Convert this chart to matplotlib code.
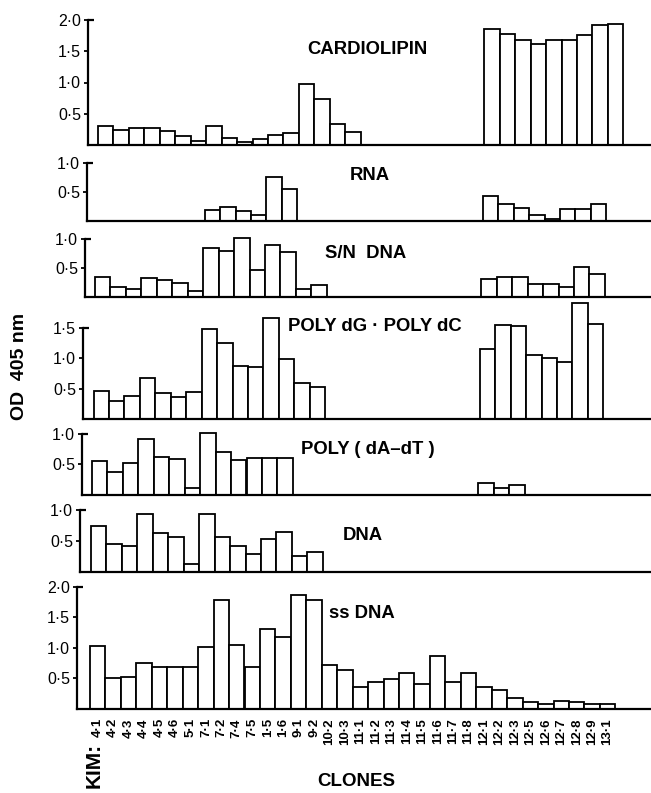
import numpy as np
import matplotlib
matplotlib.use("Agg")
import matplotlib.pyplot as plt

plt.rcParams['font.family'] = ['Liberation Sans', 'DejaVu Sans']

nan = np.nan

clones = ['4·1', '4·2', '4·3', '4·4', '4·5', '4·6', '5·1', '7·1', '7·2', '7·4', '7·5',
          '1·5', '1·6', '9·1', '9·2', '10·2', '10·3', '11·1', '11·2', '11·3', '11·4',
          '11·5', '11·6', '11·7', '11·8', '12·1', '12·2', '12·3', '12·5', '12·6',
          '12·7', '12·8', '12·9', '13·1']

cardiolipin = [0.31, 0.24, 0.28, 0.27, 0.22, 0.15, 0.06, 0.30, 0.11, 0.05, 0.09, 0.16,
               0.20, 0.98, 0.74, 0.34, 0.21] + [nan] * 8 + \
              [1.85, 1.77, 1.68, 1.61, 1.68, 1.68, 1.76, 1.92, 1.94]
rna = [nan] * 7 + [0.19, 0.24, 0.16, 0.09, 0.76, 0.54] + [nan] * 12 + \
      [0.42, 0.28, 0.21, 0.09, 0.03, 0.20, 0.20, 0.28, nan]
sn_dna = [0.34, 0.18, 0.14, 0.32, 0.29, 0.24, 0.10, 0.84, 0.79, 1.01, 0.47, 0.90, 0.78,
          0.13, 0.21] + [nan] * 10 + [0.31, 0.34, 0.34, 0.22, 0.22, 0.18, 0.51, 0.40, nan]
poly_dg_dc = [0.46, 0.29, 0.38, 0.67, 0.43, 0.36, 0.44, 1.48, 1.26, 0.88, 0.85, 1.66,
              0.99, 0.60, 0.53] + [nan] * 10 + \
             [1.15, 1.55, 1.53, 1.05, 1.01, 0.94, 1.91, 1.56, nan]
poly_da_dt = [0.55, 0.38, 0.52, 0.91, 0.63, 0.59, 0.11, 1.01, 0.71, 0.58, 0.60, 0.61,
              0.61] + [nan] * 12 + [0.19, 0.12, 0.16] + [nan] * 6
dna = [0.75, 0.45, 0.42, 0.94, 0.63, 0.57, 0.13, 0.93, 0.56, 0.42, 0.29, 0.54, 0.64,
       0.26, 0.32] + [nan] * 19
ss_dna = [1.03, 0.50, 0.52, 0.75, 0.68, 0.68, 0.69, 1.01, 1.79, 1.05, 0.68, 1.31, 1.17,
          1.87, 1.79, 0.72, 0.63, 0.36, 0.43, 0.48, 0.59, 0.40, 0.87, 0.43, 0.58, 0.36,
          0.31, 0.17, 0.11, 0.08, 0.12, 0.11, 0.07, 0.07]

W, H = 651, 793
BAR_PX = 15.45

# (values, title, baseline px, top px, ymax, spine x px, first bar x px, title x px, title y px)
panels = [
    (cardiolipin, 'CARDIOLIPIN', 145, 20, 2.0, 88, 98, 307, 49),
    (rna, 'RNA', 220.5, 163, 1.0, 87, 96.5, 350, 175),
    (sn_dna, 'S/N  DNA', 297, 239, 1.0, 85, 95, 325, 253),
    (poly_dg_dc, 'POLY dG · POLY dC', 419, 328, 1.5, 83, 93.5, 288, 326),
    (poly_da_dt, 'POLY ( dA–dT )', 495, 434, 1.0, 82, 92, 301, 449),
    (dna, 'DNA', 572, 510, 1.0, 80, 91, 343, 535),
    (ss_dna, 'ss DNA', 708.5, 587, 2.0, 77, 90, 329, 613),
]

fig = plt.figure(figsize=(W / 100, H / 100), dpi=100)
x = np.arange(len(clones))

for i, (vals, title, base, top, ymax, spine_x, bar0, tx, ty) in enumerate(panels):
    ax = fig.add_axes([spine_x / W, 1 - base / H, (W - spine_x) / W, (base - top) / H])
    vals = np.array(vals, dtype=float)
    ok = ~np.isnan(vals)
    ax.bar(x[ok], vals[ok], width=1.0, color='white', edgecolor='black',
           linewidth=1.3, clip_on=False, zorder=3)
    left = -0.5 - (bar0 - spine_x) / BAR_PX
    ax.set_xlim(left, left + (W - spine_x) / BAR_PX)
    ax.set_ylim(0, ymax)
    ticks = np.arange(0.5, ymax + 0.01, 0.5)
    ax.set_yticks(ticks)
    ax.set_yticklabels([f'{t:.1f}'.replace('.', '·') for t in ticks], fontsize=11.5)
    ax.tick_params(axis='y', direction='out', length=3, width=1.3, pad=2)
    for s in ['top', 'right']:
        ax.spines[s].set_visible(False)
    ax.spines['left'].set_linewidth(1.6)
    ax.spines['bottom'].set_linewidth(1.6)
    ax.spines['bottom'].set_zorder(4)
    ax.plot([0, 0.010], [1, 1], transform=ax.transAxes, color='black', lw=1.6,
            clip_on=False, solid_capstyle='butt')
    ax.patch.set_visible(False)
    if i == len(panels) - 1:
        ax.set_xticks(x)
        ax.set_xticklabels(clones, rotation=90, fontsize=9.5, fontweight='bold')
        ax.tick_params(axis='x', length=0, pad=7)
    else:
        ax.set_xticks([])
    fig.text(tx / W, 1 - ty / H, title, fontsize=13.3, fontweight='bold',
             ha='left', va='center')

fig.text(20 / W, 1 - 366 / H, 'OD  405 nm', rotation=90, fontsize=14,
         fontweight='bold', ha='center', va='center')
fig.text(94 / W, 1 - 765 / H, 'KIM:', rotation=90, fontsize=15,
         fontweight='bold', ha='center', va='center')
fig.text(356 / W, 1 - 781 / H, 'CLONES', fontsize=13.5, fontweight='bold',
         ha='center', va='center')

fig.savefig('out.png', dpi=100)
